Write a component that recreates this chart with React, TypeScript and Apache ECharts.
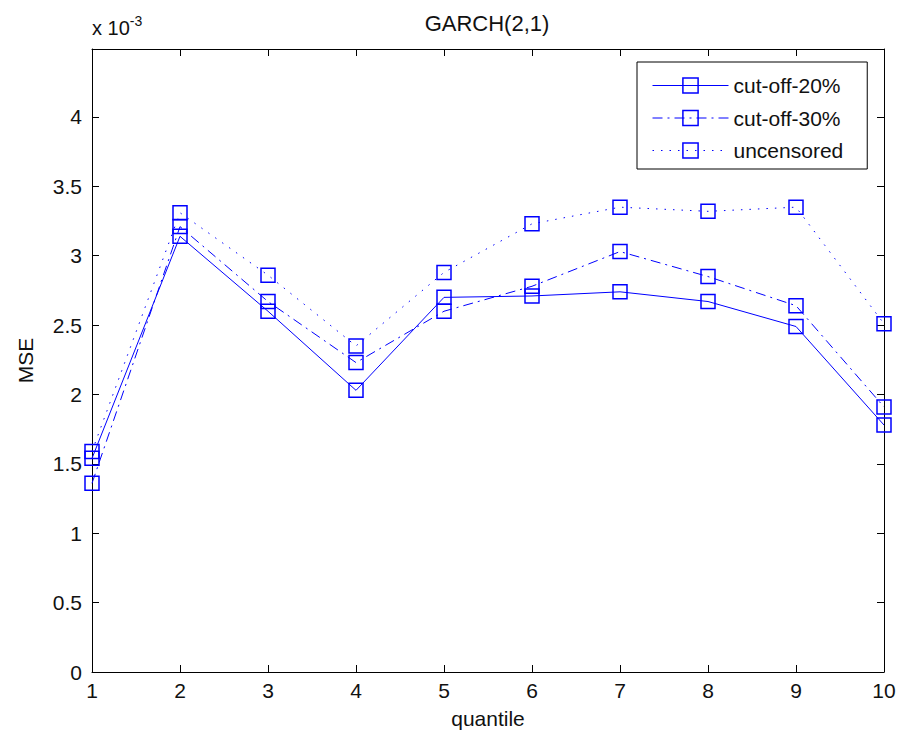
import React, { useEffect, useRef } from "react";
import * as echarts from "echarts";

const quantiles = [1, 2, 3, 4, 5, 6, 7, 8, 9, 10];
const cutOff20 = [1.54, 3.14, 2.6, 2.03, 2.7, 2.71, 2.74, 2.67, 2.49, 1.78];
const cutOff30 = [1.36, 3.21, 2.67, 2.23, 2.6, 2.78, 3.03, 2.85, 2.64, 1.91];
const uncensored = [1.59, 3.31, 2.86, 2.35, 2.88, 3.23, 3.35, 3.32, 3.35, 2.51];
const seriesNames = ["cut-off-20%", "cut-off-30%", "uncensored"];
const yTicks = [0, 0.5, 1, 1.5, 2, 2.5, 3, 3.5, 4];

const BLUE = "#0000ff";
const FONT = "Arial, 'Liberation Sans', sans-serif";
const dashTypes: any[] = ["solid", [10, 5, 2, 5], [1.5, 7]];

export default function App() {
  const ref = useRef<HTMLDivElement>(null);
  useEffect(() => {
    if (!ref.current) return;
    const chart = echarts.init(ref.current, null, { renderer: "svg" });
    const values = [cutOff20, cutOff30, uncensored];
    const axisCommon = {
      type: "value" as const,
      axisLine: { show: true, onZero: false, lineStyle: { color: "#000", width: 1 } },
      axisTick: { show: true, inside: true, length: 7, lineStyle: { color: "#000" } },
      splitLine: { show: false },
    };
    chart.setOption({
      animation: false,
      backgroundColor: "#fff",
      grid: { left: 92, right: 15, top: 49, bottom: 70 },
      graphic: [
        {
          type: "text",
          x: 487,
          y: 23,
          style: {
            text: "GARCH(2,1)",
            font: `22px ${FONT}`,
            fill: "#111",
            textAlign: "center",
            textVerticalAlign: "middle",
          },
        },
        {
          type: "text",
          x: 92,
          y: 38,
          style: {
            text: "{a|x 10}{b|-3}",
            textVerticalAlign: "bottom",
            rich: {
              a: { font: `20px ${FONT}`, fill: "#111", verticalAlign: "bottom" },
              b: { font: `14px ${FONT}`, fill: "#111", padding: [0, 0, 10, 0] },
            },
          },
        },
      ],
      legend: {
        orient: "vertical",
        left: 637,
        top: 62,
        padding: [13, 24, 8, 15],
        itemGap: 11.5,
        itemWidth: 76,
        itemHeight: 19,
        backgroundColor: "#fff",
        borderColor: "#000",
        borderWidth: 1,
        borderRadius: 0,
        selectedMode: false,
        textStyle: { fontFamily: FONT, fontSize: 21, color: "#111" },
        data: seriesNames.map((n, i) => ({
          name: n,
          itemStyle: { color: "rgba(0,0,0,0)", borderColor: BLUE, borderWidth: 1.5 },
          lineStyle: { color: BLUE, width: 1, type: dashTypes[i] },
        })),
      },
      xAxis: [
        {
          ...axisCommon,
          min: 1,
          max: 10,
          interval: 1,
          name: "quantile",
          nameLocation: "middle",
          nameGap: 36,
          nameTextStyle: { fontFamily: FONT, fontSize: 21, color: "#111" },
          axisLabel: { fontFamily: FONT, fontSize: 21, color: "#111", margin: 8 },
        },
        {
          ...axisCommon,
          position: "top",
          min: 1,
          max: 10,
          interval: 1,
          axisLabel: { show: false },
        },
      ],
      yAxis: [
        {
          ...axisCommon,
          min: yTicks[0],
          max: 4.49,
          interval: 0.5,
          name: "MSE",
          nameLocation: "middle",
          nameGap: 56,
          nameTextStyle: { fontFamily: FONT, fontSize: 21, color: "#111" },
          axisLabel: {
            fontFamily: FONT,
            fontSize: 21,
            color: "#111",
            margin: 10,
            showMaxLabel: false,
            formatter: (v: number) => (yTicks.includes(v) ? String(v) : ""),
          },
        },
        {
          ...axisCommon,
          position: "right",
          min: yTicks[0],
          max: 4.49,
          interval: 0.5,
          axisLabel: { show: false },
        },
      ],
      series: seriesNames.map((n, i) => ({
        name: n,
        type: "line",
        xAxisIndex: 0,
        yAxisIndex: 0,
        data: quantiles.map((q, j) => [q, values[i][j]]),
        symbol: "rect",
        symbolSize: 14,
        showAllSymbol: true,
        clip: false,
        itemStyle: { color: "rgba(0,0,0,0)", borderColor: BLUE, borderWidth: 1.5 },
        lineStyle: { color: BLUE, width: 1, type: dashTypes[i] },
        emphasis: { disabled: true },
        z: 3 - i,
      })),
    });
    return () => chart.dispose();
  }, []);
  return (
    <div
      ref={ref}
      style={{ position: "absolute", left: 0, top: 0, width: 899, height: 742 }}
    />
  );
}
